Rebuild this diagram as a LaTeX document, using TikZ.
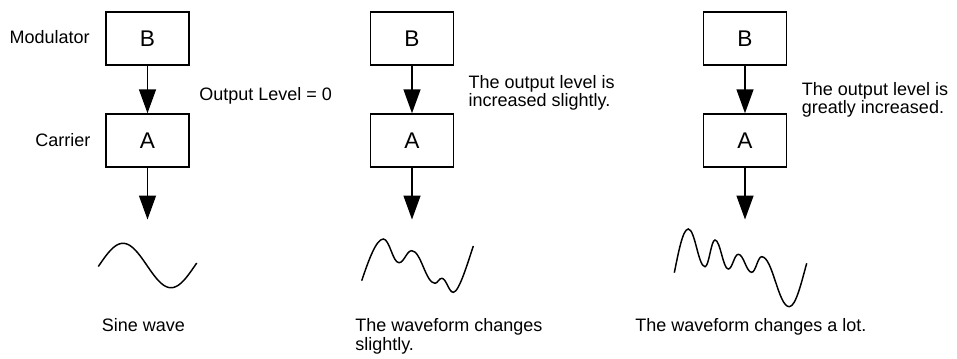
\documentclass[tikz,border=0pt]{standalone}
\usepackage{fontspec}
\setmainfont{Liberation Sans}
\usetikzlibrary{arrows.meta}
\begin{document}
\begin{tikzpicture}[x=0.75pt,y=-0.75pt,
  opbox/.style={draw,line width=1.1pt,minimum width=62.25pt,minimum height=39.75pt,inner sep=0pt,
    font=\fontsize{17pt}{18pt}\selectfont},
  lbl/.style={inner sep=0pt,anchor=base west,align=left,font=\fontsize{13.5pt}{13.8pt}\selectfont},
  conn/.style={line width=1.1pt,-{Triangle[width=12.75pt,length=18pt]}},
  wave/.style={line width=1.1pt}]
\useasboundingbox (0,0) rectangle (957,358);
% column 1
\node[opbox] (b1) at (147.5,38.5) {B};
\node[opbox] (a1) at (147.5,140.5) {A};
\coordinate (o1) at (147.5,219.5);
\draw[conn] (b1.south) -- (a1.north);
\draw[conn] (a1.south) -- (o1);
% column 2
\node[opbox] (b2) at (412,38.5) {B};
\node[opbox] (a2) at (412,140.5) {A};
\coordinate (o2) at (412,219.5);
\draw[conn] (b2.south) -- (a2.north);
\draw[conn] (a2.south) -- (o2);
% column 3
\node[opbox] (b3) at (745,38.5) {B};
\node[opbox] (a3) at (745,140.5) {A};
\coordinate (o3) at (745,219.5);
\draw[conn] (b3.south) -- (a3.north);
\draw[conn] (a3.south) -- (o3);
% labels
\node[lbl] (tmod) at (9.3,43.3) {Modulator};
\node[lbl] (tcar) at (35,146.5) {Carrier};
\node[lbl] (tol) at (199,100.7) {Output Level = 0};
\node[lbl] (t2) at (468.3,106.7) {The output level is\\increased slightly.};
\node[lbl] (t3) at (801.7,113.4) {The output level is\\greatly increased.};
\node[lbl] (s1) at (101.7,331) {Sine wave};
\node[lbl] (s2) at (355,350.1) {The waveform changes\\slightly.};
\node[lbl] (s3) at (635,331.7) {The waveform changes a lot.};
% waveforms
\draw[wave] plot[domain=98.3:196.7,samples=80,smooth] (\x,{265.5-22.2*sin(3.75*(\x-99))});
\draw[wave] (361.7,280.7) .. controls (368,262) and (376,239) .. (383.3,239)
  .. controls (389.6,239) and (392.7,262.7) .. (399,262.7)
  .. controls (404.1,262.7) and (406.6,250.7) .. (411.7,250.7)
  .. controls (421,250.7) and (425.7,283.3) .. (435,283.3)
  .. controls (437.7,283.3) and (439,278.3) .. (441.7,278.3)
  .. controls (446.3,278.3) and (448.7,292.3) .. (453.3,292.3)
  .. controls (459,292.3) and (468,262) .. (473.3,246);
\draw[wave] (674.3,272.7) .. controls (678,255) and (682.5,229) .. (688.3,229)
  .. controls (695,229) and (698.3,266.7) .. (705,266.7)
  .. controls (709,266.7) and (711,240) .. (715,240)
  .. controls (720.3,240) and (723,269) .. (728.3,269)
  .. controls (732.3,269) and (734.3,254.3) .. (738.3,254.3)
  .. controls (743.7,254.3) and (746.3,272.3) .. (751.7,272.3)
  .. controls (755.7,272.3) and (757.7,256.7) .. (761.7,256.7)
  .. controls (772.7,256.7) and (778.3,306.7) .. (789.3,306.7)
  .. controls (796,306.7) and (802,280) .. (806.7,263.3);
\end{tikzpicture}
\end{document}
